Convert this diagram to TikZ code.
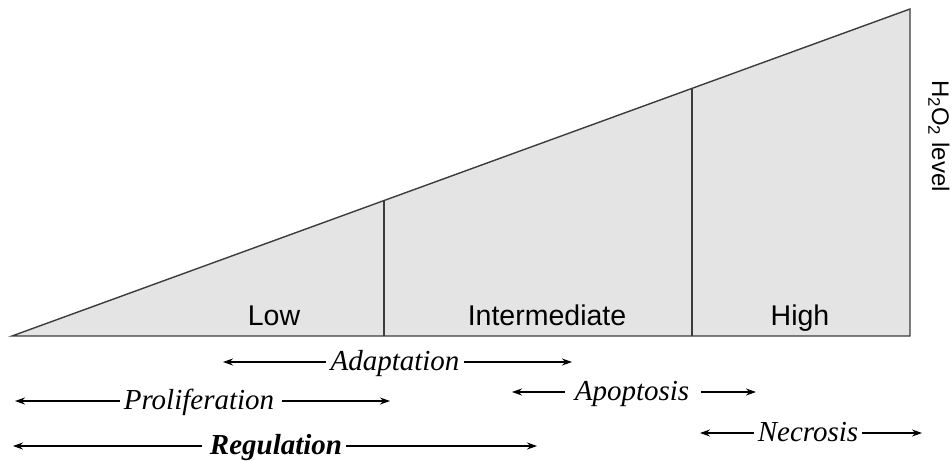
\documentclass[tikz,border=0pt]{standalone}
\usepackage{fontspec}
\setmainfont{Liberation Serif}
\setsansfont{Liberation Sans}
\usetikzlibrary{arrows.meta}
\definecolor{wedgefill}{RGB}{228,228,228}
\definecolor{wedgeline}{RGB}{60,60,60}
\tikzset{
  wedge/.style={draw=wedgeline, line width=1.4pt, fill=wedgefill, line join=miter},
  divider/.style={draw=wedgeline, line width=1.2pt},
  level/.style={font=\sffamily\fontsize{28.5}{34}\selectfont, anchor=base, inner sep=0pt},
  phase/.style={font=\itshape\fontsize{29}{34}\selectfont, text height=21pt, text depth=5pt, inner ysep=0pt, inner xsep=4pt},
  arr/.style={draw=black, line width=1.2pt, -{Stealth[length=10pt,width=7pt]}}
}
\begin{document}
\begin{tikzpicture}[x=1pt,y=-1pt]
\useasboundingbox (0,0) rectangle (952,460);
% wedge
\coordinate (tl) at (12,336);
\coordinate (br) at (910,336);
\coordinate (tr) at (910,9);
\path[wedge] (tl) -- (br) -- (tr) -- cycle;
\coordinate (d1b) at (384,336);
\coordinate (d1t) at (384,201);
\coordinate (d2b) at (692,336);
\coordinate (d2t) at (692,89);
\draw[divider] (d1b) -- (d1t);
\draw[divider] (d2b) -- (d2t);
% level labels
\node[level] (low) at (274,325) {Low};
\node[level] (mid) at (547,325) {Intermediate};
\node[level] (high) at (800,325) {High};
\node[font=\sffamily\fontsize{24}{28}\selectfont, rotate=-90, inner sep=0pt] (h2o2) at (939,136) {H\textsubscript{2}O\textsubscript{2} level};
% phases
\node[phase] (adapt) at (395,362) {Adaptation};
\coordinate (adaptL) at (223,362);
\coordinate (adaptR) at (572,362);
\draw[arr] (adapt) -- (adaptL);
\draw[arr] (adapt) -- (adaptR);

\node[phase] (prolif) at (199,401) {Proliferation};
\coordinate (prolifL) at (15,401);
\coordinate (prolifR) at (390,401);
\draw[arr] (prolif) -- (prolifL);
\draw[arr, shorten <=4pt] (prolif) -- (prolifR);

\node[phase, font=\bfseries\itshape\fontsize{29}{34}\selectfont] (reg) at (276,446) {Regulation};
\coordinate (regL) at (13,446);
\coordinate (regR) at (537,446);
\draw[arr, shorten <=4pt] (reg) -- (regL);
\draw[arr] (reg) -- (regR);

\node[phase] (apop) at (632,392) {Apoptosis};
\coordinate (apopL) at (512,392);
\coordinate (apopR) at (756,392);
\draw[arr, shorten <=6pt] (apop) -- (apopL);
\draw[arr, shorten <=8pt] (apop) -- (apopR);

\node[phase] (necro) at (808,433) {Necrosis};
\coordinate (necroL) at (700,433);
\coordinate (necroR) at (922,433);
\draw[arr] (necro) -- (necroL);
\draw[arr] (necro) -- (necroR);
\end{tikzpicture}
\end{document}
